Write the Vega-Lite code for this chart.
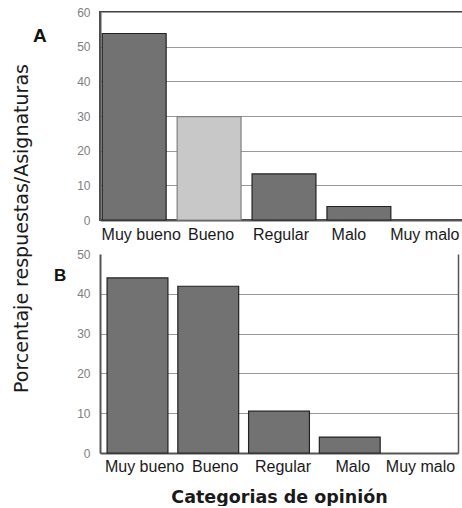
{
  "$schema": "https://vega.github.io/schema/vega-lite/v6.json",
  "padding": {"left": 10, "top": 5, "right": 0, "bottom": 0},
  "bounds": "flush",
  "spacing": 34,
  "datasets": {
    "a": [
      {"categoria": "Muy bueno", "porcentaje": 53.8, "tono": "oscuro"},
      {"categoria": "Bueno", "porcentaje": 29.8, "tono": "claro"},
      {"categoria": "Regular", "porcentaje": 13.3, "tono": "oscuro"},
      {"categoria": "Malo", "porcentaje": 3.9, "tono": "oscuro"},
      {"categoria": "Muy malo", "porcentaje": 0, "tono": "oscuro"}
    ],
    "b": [
      {"categoria": "Muy bueno", "porcentaje": 44.0, "tono": "oscuro"},
      {"categoria": "Bueno", "porcentaje": 41.9, "tono": "oscuro"},
      {"categoria": "Regular", "porcentaje": 10.5, "tono": "oscuro"},
      {"categoria": "Malo", "porcentaje": 4.0, "tono": "oscuro"},
      {"categoria": "Muy malo", "porcentaje": 0, "tono": "oscuro"}
    ]
  },
  "config": {
    "view": {"stroke": null},
    "axisX": {
      "labelFont": "Liberation Sans", "labelFontSize": 16, "labelColor": "#1a1a1a",
      "labelAngle": 0, "ticks": false, "domainColor": "#555", "domainWidth": 2,
      "labelPadding": 6, "labelOverlap": false, "labelBound": false, "grid": false,
      "titleFont": "DejaVu Sans", "titleFontSize": 17.5, "titleFontWeight": "bold", "titleColor": "#1a1a1a"
    },
    "axisY": {
      "labelFont": "Liberation Sans", "labelFontSize": 12, "labelColor": "#808080",
      "ticks": false, "domainColor": "#555", "domainWidth": 2, "labelPadding": 10,
      "gridColor": "#9a9a9a", "gridWidth": 1.2,
      "titleFont": "DejaVu Sans", "titleFontSize": 19, "titleFontWeight": "normal", "titleColor": "#1a1a1a"
    },
    "title": {"font": "Liberation Sans", "fontSize": 19, "fontWeight": "bold", "color": "#111", "anchor": "start", "frame": "group"}
  },
  "vconcat": [
    {
      "data": {"name": "a"},
      "width": 368,
      "height": 208,
      "title": {"text": "A", "dx": -67, "dy": 44},
      "view": {"stroke": "#444", "strokeWidth": 2},
      "mark": {"type": "bar", "strokeWidth": 1.2},
      "encoding": {
        "x": {"field": "categoria", "type": "nominal", "sort": null,
              "scale": {"paddingInner": 0.147, "paddingOuter": 0.03},
              "axis": {"title": null,
                       "labelOffset": {"condition": [
                         {"test": "datum.value == 'Muy bueno'", "value": 7},
                         {"test": "datum.value == 'Bueno'", "value": 2},
                         {"test": "datum.value == 'Regular'", "value": -3},
                         {"test": "datum.value == 'Malo'", "value": -10}
                       ], "value": -9}}},
        "y": {"field": "porcentaje", "type": "quantitative",
              "scale": {"domain": [0, 60]},
              "axis": {"values": [0, 10, 20, 30, 40, 50, 60],
                       "title": "Porcentaje respuestas/Asignaturas",
                       "titleX": -79, "titleY": 216, "titleAlign": "center", "titleBaseline": "middle", "titleAngle": -90}},
        "fill": {"field": "tono", "type": "nominal",
                 "scale": {"domain": ["oscuro", "claro"], "range": ["#727272", "#c8c8c8"]}, "legend": null},
        "stroke": {"field": "tono", "type": "nominal",
                   "scale": {"domain": ["oscuro", "claro"], "range": ["#222222", "#808080"]}, "legend": null},
        "strokeOpacity": {"condition": {"test": "datum.porcentaje == 0", "value": 0}, "value": 1}
      }
    },
    {
      "data": {"name": "b"},
      "width": 358,
      "height": 199,
      "title": {"text": "B", "dx": -46, "dy": 41, "fontSize": 17},
      "layer": [
        {
          "mark": {"type": "bar", "strokeWidth": 1.2},
          "encoding": {
            "x": {"field": "categoria", "type": "nominal", "sort": null,
                  "scale": {"paddingInner": 0.14, "paddingOuter": 0.1},
                  "axis": {"title": "Categorias de opinión", "titlePadding": 14, "labelPadding": 5,
                           "labelOffset": {"condition": [
                             {"test": "datum.value == 'Muy bueno'", "value": 7},
                             {"test": "datum.value == 'Bueno'", "value": 7},
                             {"test": "datum.value == 'Regular'", "value": 4},
                             {"test": "datum.value == 'Malo'", "value": 3}
                           ], "value": 0}}},
            "y": {"field": "porcentaje", "type": "quantitative",
                  "scale": {"domain": [0, 50]},
                  "axis": {"values": [0, 10, 20, 30, 40, 50], "title": null,
                           "gridOpacity": {"condition": {"test": "datum.value == 50", "value": 0}, "value": 1}}},
            "fill": {"value": "#727272"},
            "stroke": {"value": "#222222"},
            "strokeOpacity": {"condition": {"test": "datum.porcentaje == 0", "value": 0}, "value": 1}
          }
        },
        {
          "mark": {"type": "bar", "opacity": 0},
          "encoding": {
            "x": {"field": "categoria", "type": "nominal", "sort": null},
            "y": {"field": "porcentaje", "type": "quantitative",
                  "axis": {"orient": "right", "labels": false, "grid": false, "title": null, "domainColor": "#555", "domainWidth": 1.5}}
          }
        }
      ],
      "resolve": {"axis": {"y": "independent"}}
    }
  ]
}
